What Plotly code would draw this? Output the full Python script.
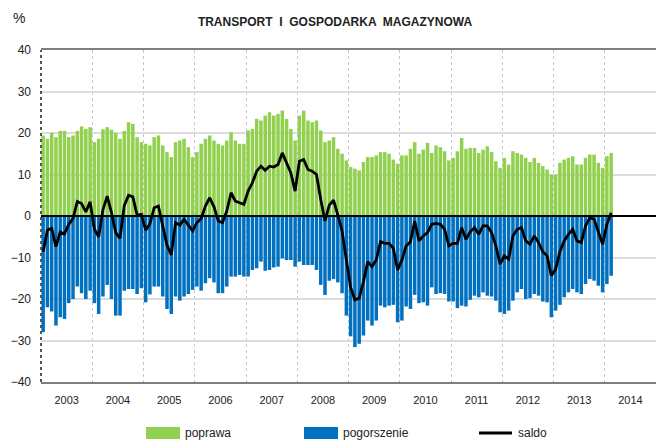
import plotly.graph_objects as go

# Monthly survey results, Jan 2003 - Feb 2014 (% of responses)
years = list(range(2003, 2015))

poprawa = [
    19.4, 18.6, 20.0, 19.0, 20.5, 20.5, 19.0, 19.4, 20.5, 21.6, 21.0, 21.4,   # 2003
    17.8, 18.6, 20.9, 21.4, 20.8, 20.0, 18.6, 20.5, 22.6, 22.2, 19.0, 17.8,   # 2004
    17.4, 17.0, 19.0, 19.4, 17.0, 15.4, 14.2, 17.8, 18.2, 18.6, 16.6, 14.2,   # 2005
    15.4, 17.4, 18.6, 19.4, 18.2, 17.4, 17.0, 18.2, 20.2, 18.2, 17.4, 17.4,   # 2006
    20.6, 21.0, 23.4, 23.0, 24.2, 25.0, 24.2, 24.6, 25.4, 23.4, 21.0, 18.2,   # 2007
    24.2, 25.4, 23.0, 22.6, 23.0, 20.6, 17.8, 18.2, 19.0, 16.2, 15.0, 13.4,   # 2008
    11.8, 11.4, 11.0, 13.0, 14.2, 14.2, 14.6, 15.4, 15.4, 15.0, 13.6, 12.6,   # 2009
    14.6, 14.6, 16.2, 17.8, 15.0, 16.0, 17.6, 15.2, 17.0, 16.6, 15.6, 13.4,   # 2010
    14.0, 15.6, 18.8, 16.2, 16.4, 16.4, 15.2, 16.0, 16.8, 15.4, 13.2, 11.6,   # 2011
    14.0, 12.4, 15.6, 15.2, 14.8, 14.0, 13.0, 14.0, 12.8, 12.0, 11.2, 10.0,   # 2012
    10.0, 12.8, 13.6, 14.0, 14.4, 12.4, 12.4, 14.0, 14.8, 14.8, 12.8, 11.6,   # 2013
    14.4, 15.2,                                                               # 2014
]

pogorszenie = [
    -28.0, -22.0, -23.0, -26.4, -24.4, -24.8, -21.0, -20.0, -17.0, -18.6, -20.0, -18.0,  # 2003
    -21.0, -23.6, -19.4, -16.6, -20.0, -24.0, -24.0, -18.0, -17.6, -17.6, -18.8, -17.4,  # 2004
    -20.8, -18.9, -17.0, -17.0, -19.4, -22.4, -23.6, -19.4, -20.4, -19.4, -18.8, -17.8,  # 2005
    -17.0, -18.0, -16.2, -15.0, -16.0, -18.6, -18.6, -17.0, -14.6, -14.6, -14.2, -14.6,  # 2006
    -14.6, -13.0, -12.6, -11.0, -13.2, -13.0, -12.4, -12.2, -10.2, -10.6, -10.6, -12.2,  # 2007
    -11.0, -11.8, -11.8, -11.8, -13.0, -16.6, -19.0, -15.6, -15.2, -16.0, -18.6, -24.0,  # 2008
    -29.0, -31.6, -30.8, -28.8, -25.2, -26.4, -25.2, -21.6, -22.0, -21.6, -21.4, -25.6,  # 2009
    -25.2, -21.8, -22.4, -19.0, -21.0, -20.8, -21.6, -17.2, -18.8, -18.6, -18.8, -20.6,  # 2010
    -20.6, -22.2, -21.6, -21.8, -20.2, -19.2, -19.6, -18.4, -19.2, -19.4, -20.4, -23.2,  # 2011
    -23.6, -22.8, -20.4, -18.4, -17.6, -20.0, -19.8, -18.8, -19.2, -20.6, -20.8, -24.4,  # 2012
    -22.8, -21.4, -19.6, -18.4, -17.6, -18.4, -18.8, -16.4, -15.2, -15.6, -16.8, -18.4,  # 2013
    -16.4, -14.4,                                                                         # 2014
]

# balance = improvement share minus deterioration share
saldo = [round(p + q, 1) for p, q in zip(poprawa, pogorszenie)]

# month centres on a continuous year axis
x = [years[0] + (i + 0.5) / 12 for i in range(len(poprawa))]

GREEN = "#92D050"
BLUE = "#0070C0"
FONT = "Liberation Sans, Arial, sans-serif"

fig = go.Figure()
fig.add_trace(go.Bar(x=x, y=poprawa, name="poprawa", marker=dict(color=GREEN, line_width=0)))
fig.add_trace(go.Bar(x=x, y=pogorszenie, name="pogorszenie", marker=dict(color=BLUE, line_width=0)))
fig.add_trace(go.Scatter(x=x, y=saldo, name="saldo", mode="lines",
                         line=dict(color="black", width=2.8)))

W, H = 656, 443
ML, MR, MT, MB = 41, 0, 50, 61
PW, PH = W - ML - MR, H - MT - MB


def px_x(px):
    return (px - ML) / PW


def px_y(py):
    return (H - MB - py) / PH


shapes = [
    # zero line
    dict(type="line", xref="paper", yref="y", x0=0, x1=1, y0=0, y1=0,
         line=dict(color="black", width=2), layer="above"),
    # left axis, dotted
    dict(type="line", xref="paper", yref="paper", x0=0, x1=0, y0=0, y1=1,
         line=dict(color="#555555", width=2, dash="dot"), layer="above"),
]

# hand-built legend row under the chart
leg_y = 433
shapes += [
    dict(type="rect", xref="paper", yref="paper",
         x0=px_x(146), x1=px_x(180), y0=px_y(439), y1=px_y(427),
         fillcolor=GREEN, line_width=0),
    dict(type="rect", xref="paper", yref="paper",
         x0=px_x(304), x1=px_x(338), y0=px_y(439), y1=px_y(427),
         fillcolor=BLUE, line_width=0),
    dict(type="line", xref="paper", yref="paper",
         x0=px_x(479), x1=px_x(512), y0=px_y(leg_y), y1=px_y(leg_y),
         line=dict(color="black", width=3)),
]

annotations = [
    dict(text="%", xref="paper", yref="paper", x=px_x(19), y=px_y(18),
         showarrow=False, font=dict(family=FONT, size=14, color="#222222"),
         xanchor="center", yanchor="middle"),
]
for label, px in [("poprawa", 183), ("pogorszenie", 341), ("saldo", 516)]:
    annotations.append(dict(text=label, xref="paper", yref="paper", x=px_x(px), y=px_y(leg_y),
                            showarrow=False, xanchor="left", yanchor="middle",
                            font=dict(family=FONT, size=12, color="#222222")))

fig.update_layout(
    width=W, height=H,
    margin=dict(l=ML, r=MR, t=MT, b=MB, pad=0),
    paper_bgcolor="white", plot_bgcolor="white",
    barmode="relative", bargap=0.18,
    showlegend=False,
    title=dict(text="<b>TRANSPORT  I  GOSPODARKA  MAGAZYNOWA</b>",
               x=335 / W, y=1 - 22 / H, xanchor="center", yanchor="middle",
               font=dict(family=FONT, size=12, color="#222222")),
    font=dict(family=FONT, color="#222222"),
    shapes=shapes,
    annotations=annotations,
)

fig.update_xaxes(
    range=[years[0], years[-1] + 1],
    tickmode="array",
    tickvals=[y + 0.5 for y in years],
    ticktext=[str(y) for y in years],
    tickfont=dict(family=FONT, size=11, color="#222222"),
    ticks="", ticklabelstandoff=7,
    showgrid=False, zeroline=False,
    showline=True, mirror=True, linecolor="#7f7f7f", linewidth=1.5,
    minor=dict(tickmode="array", tickvals=years[1:], showgrid=True,
               gridcolor="#c8c8c8", griddash="dot", gridwidth=1, ticks=""),
)

fig.update_yaxes(
    range=[-40, 40],
    tickmode="array",
    tickvals=list(range(-40, 41, 10)),
    tickfont=dict(family=FONT, size=12, color="#222222"),
    ticks="", ticklabelstandoff=9,
    showgrid=True, gridcolor="#dcdcdc", gridwidth=1.5,
    zeroline=False, showline=False,
)

fig.write_html("out.html")
